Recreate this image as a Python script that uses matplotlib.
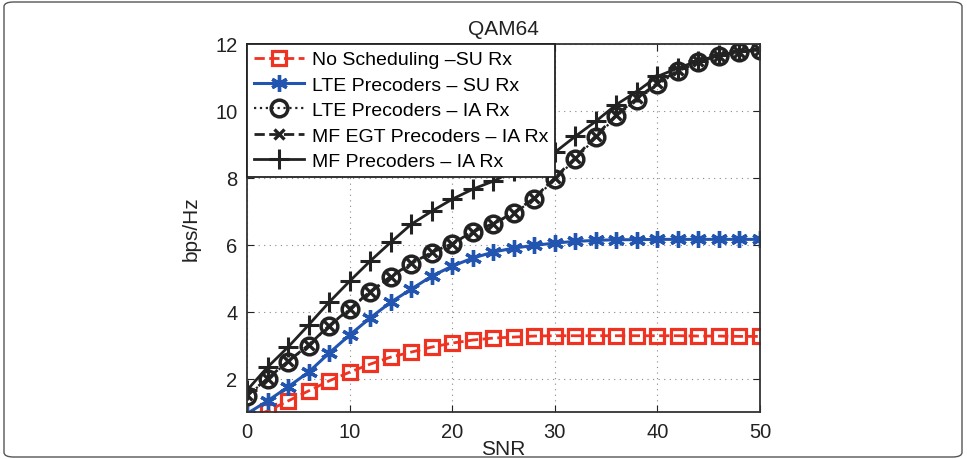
import matplotlib.pyplot as plt
from matplotlib.patches import FancyBboxPatch

plt.rcParams['font.family'] = ['Liberation Sans', 'DejaVu Sans']

snr = list(range(0, 52, 2))

no_sched_su = [0.80, 1.03, 1.33, 1.63, 1.93, 2.19, 2.43, 2.64, 2.79, 2.94, 3.06, 3.15, 3.21,
               3.24, 3.27, 3.28, 3.28, 3.28, 3.28, 3.28, 3.28, 3.28, 3.27, 3.27, 3.26, 3.26]
lte_su = [0.95, 1.33, 1.75, 2.19, 2.76, 3.30, 3.81, 4.28, 4.67, 5.06, 5.36, 5.60, 5.78,
          5.90, 5.98, 6.05, 6.10, 6.13, 6.15, 6.15, 6.16, 6.16, 6.16, 6.16, 6.16, 6.16]
lte_ia = [1.48, 1.99, 2.50, 2.98, 3.57, 4.07, 4.58, 5.03, 5.42, 5.75, 6.01, 6.37, 6.61,
          6.94, 7.36, 7.96, 8.55, 9.21, 9.84, 10.34, 10.79, 11.18, 11.45, 11.63, 11.75, 11.81]
mf_egt_ia = [1.50, 2.00, 2.52, 3.00, 3.58, 4.08, 4.60, 5.05, 5.44, 5.77, 6.03, 6.39, 6.63,
             6.96, 7.40, 8.00, 8.60, 9.26, 9.88, 10.38, 10.83, 11.21, 11.48, 11.65, 11.77, 11.83]
mf_ia = [1.65, 2.34, 2.94, 3.60, 4.28, 4.91, 5.51, 6.07, 6.61, 7.00, 7.36, 7.66, 7.90,
         8.20, 8.50, 8.76, 9.24, 9.69, 10.19, 10.58, 11.03, 11.28, 11.50, 11.66, 11.78, 11.84]

labels = ['No Scheduling \u2013SU Rx', 'LTE Precoders \u2013 SU Rx', 'LTE Precoders \u2013 IA Rx',
          'MF EGT Precoders \u2013 IA Rx', 'MF Precoders \u2013 IA Rx']

red = '#ee3322'
blue = '#2255b0'
dark = '#222222'

fig = plt.figure(figsize=(9.67, 4.6), dpi=100)
ax = fig.add_axes([247 / 967, 1 - 413 / 460, (760 - 247) / 967, (413 - 45) / 460])

ax.plot(snr, no_sched_su, '--', color=red, lw=2, marker='s', ms=9.5, mfc='none', mec=red, mew=2.3,
        label=labels[0])
ax.plot(snr, lte_su, '-', color=blue, lw=2.2, marker=(6, 2, 0), ms=12, mec=blue, mew=2.4,
        label=labels[1])
ax.plot(snr, lte_ia, ':', color=dark, lw=1.6, marker='o', ms=12, mfc='none', mec=dark, mew=2.5,
        label=labels[2])
ax.plot(snr, mf_egt_ia, '--', color=dark, lw=2, marker='x', ms=7, mec=dark, mew=2.4,
        label=labels[3])
ax.plot(snr, mf_ia, '-', color=dark, lw=2, marker='+', ms=14, mec=dark, mew=2.2,
        label=labels[4])

ax.set_xlim(0, 50)
ax.set_ylim(1, 12)
ax.set_xticks([0, 10, 20, 30, 40, 50])
ax.set_yticks([2, 4, 6, 8, 10, 12])
ax.tick_params(direction='in', labelsize=14.5, colors='#222222', length=5, top=True, right=True,
               pad=7)
ax.grid(True, linestyle=(0, (1, 4)), color='#888888', lw=0.8)
for s in ax.spines.values():
    s.set_color('#333333')
    s.set_linewidth(1.3)

ax.set_title('QAM64', fontsize=15, color='#222222', pad=7)
ax.set_xlabel('SNR', fontsize=15, color='#222222', labelpad=-1)
ax.set_ylabel('bps/Hz', fontsize=15, color='#222222', labelpad=10)

leg = ax.legend(loc='upper left', fontsize=14, frameon=True, fancybox=False, borderaxespad=0,
                handlelength=2.6, labelspacing=0.4, borderpad=0.35, handletextpad=0.4,
                numpoints=1)
leg.get_frame().set_edgecolor('#222222')
leg.get_frame().set_linewidth(1.3)
leg.get_frame().set_alpha(1)

fig.patches.append(FancyBboxPatch((4 / 967, 2 / 460), 958 / 967, 455 / 460,
                                  boxstyle='round,pad=0,rounding_size=0.01',
                                  transform=fig.transFigure, fill=False,
                                  edgecolor='#555555', lw=1))

fig.savefig('out.png', dpi=100)
